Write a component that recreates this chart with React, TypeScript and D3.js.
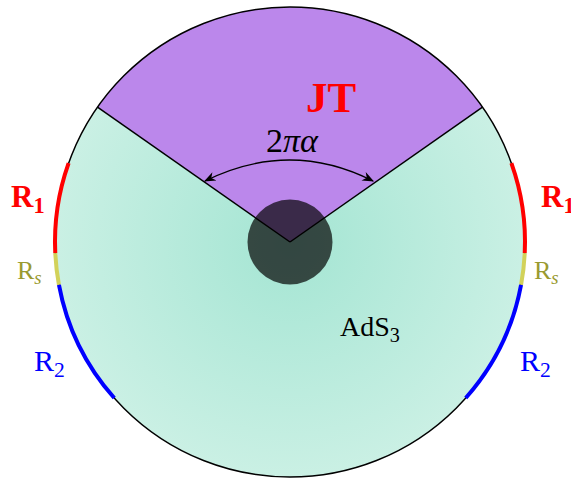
import * as d3 from "d3";

// geometry (degrees)
const wedgeHalfAngle = 55; // JT wedge spans ±55° around the top
const segmentNames = ["R1", "Rs", "R2"];
// angles measured below the horizontal, on each side of the disk
const segmentFrom = [-19.6, 2.7, 10.5];
const segmentTo = [2.7, 10.5, 41.6];
const segmentColors = ["#ff0000", "#d2d25a", "#0000ff"];
const labelColors = ["#ff0000", "#9a9a30", "#0000ff"];

const W = 571;
const H = 478;
const cx = 290;
const cy = 242;
const R = 235;
const rad = (d: number) => (d * Math.PI) / 180;
const serif = "'Liberation Serif', 'DejaVu Serif', serif";

export default function App() {
  const wedge = d3.arc()({
    innerRadius: 0,
    outerRadius: R,
    startAngle: rad(-wedgeHalfAngle),
    endAngle: rad(wedgeHalfAngle),
  } as any) as string;

  const band = d3.arc().innerRadius(R - 2).outerRadius(R + 2);

  // left side: 270° is 9 o'clock; right side: 90° is 3 o'clock
  const segs = segmentNames.flatMap((name, i) => [
    {
      key: name + "L",
      color: segmentColors[i],
      d: band({ startAngle: rad(270 - segmentTo[i]), endAngle: rad(270 - segmentFrom[i]) } as any) as string,
    },
    {
      key: name + "R",
      color: segmentColors[i],
      d: band({ startAngle: rad(90 + segmentFrom[i]), endAngle: rad(90 + segmentTo[i]) } as any) as string,
    },
  ]);

  // double arrow for 2πα
  const p0: [number, number] = [205 - cx, 181 - cy];
  const p1: [number, number] = [373 - cx, 181 - cy];
  const arrow = d3.path();
  arrow.moveTo(p0[0], p0[1]);
  arrow.quadraticCurveTo(0, 139 - cy, p1[0], p1[1]);

  const sub = (main: string, s: string, italic = false) => (
    <>
      {main}
      <tspan fontSize="0.72em" dy="0.28em" fontStyle={italic ? "italic" : "normal"}>
        {s}
      </tspan>
    </>
  );

  return (
    <svg width={W} height={H} style={{ position: "absolute", left: 0, top: 0 }}>
      <defs>
        <radialGradient id="ads" cx="50%" cy="50%" r="50%">
          <stop offset="0%" stopColor="#a4e5d3" />
          <stop offset="100%" stopColor="#caf0e4" />
        </radialGradient>
        <marker id="ah" viewBox="0 0 10 10" refX="9" refY="5" markerWidth="9" markerHeight="9" orient="auto-start-reverse">
          <path d="M0,1 L10,5 L0,9 L3,5 Z" fill="#000" />
        </marker>
      </defs>
      <g transform={`translate(${cx},${cy})`}>
        <circle r={R} fill="url(#ads)" />
        <path d={wedge} fill="#bb87eb" />
        <line x1={0} y1={0} x2={R * Math.sin(rad(-wedgeHalfAngle))} y2={-R * Math.cos(rad(wedgeHalfAngle))} stroke="#000" strokeWidth={1.5} />
        <line x1={0} y1={0} x2={R * Math.sin(rad(wedgeHalfAngle))} y2={-R * Math.cos(rad(wedgeHalfAngle))} stroke="#000" strokeWidth={1.5} />
        <circle r={R} fill="none" stroke="#000" strokeWidth={1.5} />
        {segs.map((s) => (
          <path key={s.key} d={s.d} fill={s.color} />
        ))}
        <circle r={42.5} fill="#000" fillOpacity={0.69} />
        <path d={arrow.toString()} fill="none" stroke="#000" strokeWidth={1.3} markerStart="url(#ah)" markerEnd="url(#ah)" />
      </g>
      <g fontFamily={serif}>
        <text x={331} y={112} textAnchor="middle" fill="#ff0000" fontWeight="bold" fontSize={43}>JT</text>
        <text x={292} y={152} textAnchor="middle" fontSize={34}>
          2<tspan fontStyle="italic">πα</tspan>
        </text>
        <text x={340} y={336} fontSize={28}>{sub("AdS", "3")}</text>
        <text x={11} y={207} fill={labelColors[0]} fontWeight="bold" fontSize={31}>{sub("R", "1")}</text>
        <text x={17} y={279} fill={labelColors[1]} fontSize={26}>{sub("R", "s", true)}</text>
        <text x={34} y={371} fill={labelColors[2]} fontSize={30}>{sub("R", "2")}</text>
        <text x={541} y={207} fill={labelColors[0]} fontWeight="bold" fontSize={31}>{sub("R", "1")}</text>
        <text x={534} y={279} fill={labelColors[1]} fontSize={26}>{sub("R", "s", true)}</text>
        <text x={520} y={371} fill={labelColors[2]} fontSize={30}>{sub("R", "2")}</text>
      </g>
    </svg>
  );
}
